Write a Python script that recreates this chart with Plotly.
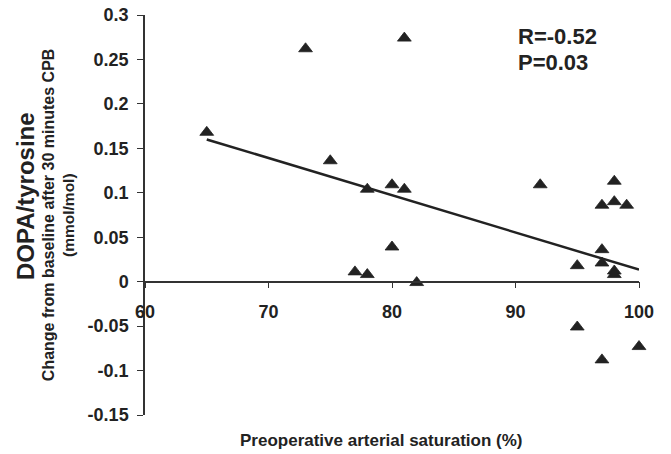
import plotly.graph_objects as go

# Data
sat = [65, 73, 75, 77, 78, 78, 80, 80, 81, 81, 82, 92, 95, 95, 97, 97, 97, 97, 98, 98, 98, 98, 99, 100]
dopa = [0.168, 0.262, 0.136, 0.011, 0.104, 0.008, 0.109, 0.039, 0.274, 0.104, -0.001, 0.109,
        0.018, -0.051, 0.086, 0.036, 0.021, -0.088, 0.113, 0.090, 0.012, 0.008, 0.086, -0.073]
fit_x = [65, 100]
fit_y = [0.160, 0.0135]

x_ticks = [60, 70, 80, 90, 100]
y_ticks = [-0.15, -0.1, -0.05, 0, 0.05, 0.1, 0.15, 0.2, 0.25, 0.3]
y_tick_labels = ["-0.15", "-0.1", "-0.05", "0", "0.05", "0.1", "0.15", "0.2", "0.25", "0.3"]

x_range = [60, 100]
y_range = [-0.15, 0.3]
x_axis_pos = (0 - y_range[0]) / (y_range[1] - y_range[0])

FONT = "Liberation Sans"
INK = "#222222"

fig = go.Figure()
fig.add_trace(go.Scatter(x=fit_x, y=fit_y, mode="lines",
                         line=dict(color=INK, width=2.5), showlegend=False, hoverinfo="skip"))
fig.add_trace(go.Scatter(x=sat, y=dopa, mode="markers", cliponaxis=False,
                         marker=dict(symbol="triangle-up", size=12, color=INK,
                                     line=dict(color=INK, width=0.8)),
                         showlegend=False))

axis_common = dict(showgrid=False, zeroline=False, linecolor="#333333", tickcolor="#333333",
                   tickwidth=1.3)

fig.update_layout(
    width=671, height=454,
    margin=dict(l=145, r=32, t=15, b=39, autoexpand=False),
    paper_bgcolor="white", plot_bgcolor="white",
    font=dict(family=FONT, color=INK),
    xaxis=dict(range=x_range, tickvals=x_ticks, anchor="free", position=x_axis_pos,
               showline=True, linewidth=1.5, ticks="outside", ticklen=6,
               tickfont=dict(size=18, weight="bold", color=INK), ticklabelstandoff=8,
               **axis_common),
    xaxis2=dict(range=x_range, tickvals=x_ticks, overlaying="x", anchor="free",
                position=x_axis_pos, showline=False, ticks="inside", ticklen=6,
                showticklabels=False, **axis_common),
    yaxis=dict(range=y_range, tickvals=y_ticks, ticktext=y_tick_labels,
               showline=True, linewidth=1.5, ticks="outside", ticklen=6,
               tickfont=dict(size=18, weight="bold", color=INK), ticklabelstandoff=5,
               **axis_common),
    yaxis2=dict(range=y_range, tickvals=y_ticks, overlaying="y", anchor="x",
                showline=False, ticks="inside", ticklen=6, showticklabels=False,
                **axis_common),
)

annotations = [
    dict(text="R=-0.52", x=0.752, y=0.9475, xanchor="left", yanchor="middle",
         font=dict(size=22, weight="bold")),
    dict(text="P=0.03", x=0.752, y=0.8825, xanchor="left", yanchor="middle",
         font=dict(size=22, weight="bold")),
    dict(text="Preoperative arterial saturation (%)", x=0.477, y=-0.0625,
         xanchor="center", yanchor="middle", font=dict(size=17, weight="bold")),
    dict(text="DOPA/tyrosine", x=-0.243, y=0.5475, textangle=-90,
         xanchor="center", yanchor="middle", font=dict(size=24, weight="bold")),
    dict(text="Change from baseline after 30 minutes CPB", x=-0.196, y=0.5, textangle=-90,
         xanchor="center", yanchor="middle", font=dict(size=16, weight="bold")),
    dict(text="(mmol/mol)", x=-0.156, y=0.5, textangle=-90,
         xanchor="center", yanchor="middle", font=dict(size=15.5, weight="bold")),
]
for a in annotations:
    a.update(xref="paper", yref="paper", showarrow=False)
fig.update_layout(annotations=annotations)

fig.write_html("out.html", config={"displayModeBar": False},
               post_script="document.body.style.margin='0';")
